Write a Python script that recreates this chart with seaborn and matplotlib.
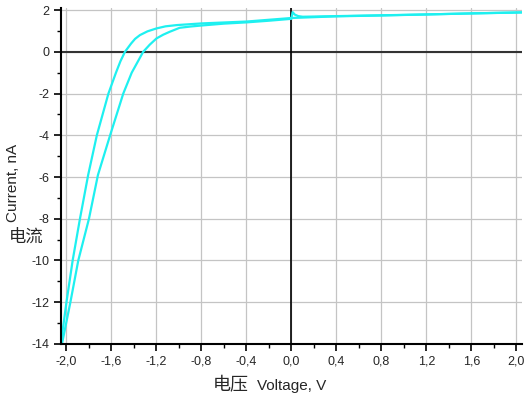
import seaborn as sns
import matplotlib.pyplot as plt

# sweep starting at 0 V (with the small transient spike)
start_v = [0.0, 0.01, 0.03, 0.06, 0.1, 0.2, 0.4, 0.8, 1.2, 1.6, 2.0, 2.05]
start_i = [1.62, 1.9, 1.78, 1.71, 1.68, 1.69, 1.71, 1.75, 1.79, 1.84, 1.88, 1.89]

# outer branch, 2 V down to -2 V
down_v = [2.05, 1.6, 1.2, 0.8, 0.4, 0.0, -0.4, -0.8, -1.02, -1.12, -1.2, -1.28,
          -1.347, -1.39, -1.425, -1.48, -1.52, -1.56, -1.627, -1.73, -1.807,
          -1.88, -1.945, -2.0, -2.05]
down_i = [1.89, 1.84, 1.79, 1.74, 1.7, 1.62, 1.45, 1.36, 1.28, 1.22, 1.12, 0.98,
          0.8, 0.62, 0.4, 0.0, -0.45, -1.0, -2.0, -4.0, -5.9,
          -8.0, -10.0, -12.0, -14.0]

# inner branch, -2 V back up to 0 V
up_v = [-2.04, -1.965, -1.895, -1.80, -1.72, -1.612, -1.495, -1.42, -1.318,
        -1.26, -1.2, -1.14, -1.082, -0.994, -0.9, -0.8, -0.6, -0.4, -0.2, 0.0]
up_i = [-14.0, -12.0, -10.0, -8.0, -5.9, -4.0, -2.0, -1.0, 0.0,
        0.34, 0.64, 0.82, 0.96, 1.15, 1.21, 1.26, 1.35, 1.41, 1.49, 1.58]

xticks = [-2.0, -1.6, -1.2, -0.8, -0.4, 0.0, 0.4, 0.8, 1.2, 1.6, 2.0]
xtick_labels = ["-2,0", "-1,6", "-1,2", "-0,8", "-0,4", "0,0", "0,4", "0,8", "1,2", "1,6", "2,0"]
yticks = [-14, -12, -10, -8, -6, -4, -2, 0, 2]
ytick_labels = ["-14", "-12", "-10", "-8", "-6", "-4", "-2", "0", "2"]

sns.set_style("white")
plt.rcParams['font.family'] = ['Liberation Sans', 'Noto Sans CJK SC', 'DejaVu Sans']

fig = plt.figure(figsize=(5.29, 3.99), dpi=100)
ax = fig.add_axes([0.115, 0.138, 0.872, 0.842])

ax.grid(True, color="#c4c4c4", lw=0.9)
ax.set_axisbelow(True)

color = "#1ef0f0"
for v, i in [(start_v, start_i), (down_v, down_i), (up_v, up_i)]:
    sns.lineplot(x=v, y=i, sort=False, estimator=None, color=color, lw=1.6, ax=ax)

ax.axhline(0, color="#333333", lw=1.5, zorder=1)
ax.axvline(0, color="black", lw=1.2, zorder=1)

ax.set_xlim(-2.05, 2.05)
ax.set_ylim(-14, 2.1)
ax.set_xticks(xticks)
ax.set_xticklabels(xtick_labels)
ax.set_yticks(yticks)
ax.set_yticklabels(ytick_labels)
ax.set_xticks([-1.8, -1.4, -1.0, -0.6, -0.2, 0.2, 0.6, 1.0, 1.4, 1.8], minor=True)
ax.set_yticks([-13, -11, -9, -7, -5, -3, -1, 1], minor=True)
ax.tick_params(which="major", direction="out", length=5, width=1.2, labelsize=9,
               bottom=True, left=True, color="black")
ax.tick_params(which="minor", direction="out", length=3, width=1,
               bottom=True, left=True, color="black")

for side in ["top", "right"]:
    ax.spines[side].set_visible(False)
for side in ["left", "bottom"]:
    ax.spines[side].set_color("black")
    ax.spines[side].set_linewidth(1.5)

# axis titles
fig.text(213 / 529, 1 - 390 / 399, "电压", fontsize=13, ha="left", va="baseline")
fig.text(257 / 529, 1 - 390 / 399, "Voltage, V", fontsize=11, ha="left", va="baseline")
fig.text(13 / 529, 1 - 183 / 399, "Current, nA", rotation=90, fontsize=11,
         ha="center", va="center")
fig.text(26 / 529, 1 - 237 / 399, "电流", fontsize=12.5, ha="center", va="center")

fig.savefig("out.png", dpi=100)
